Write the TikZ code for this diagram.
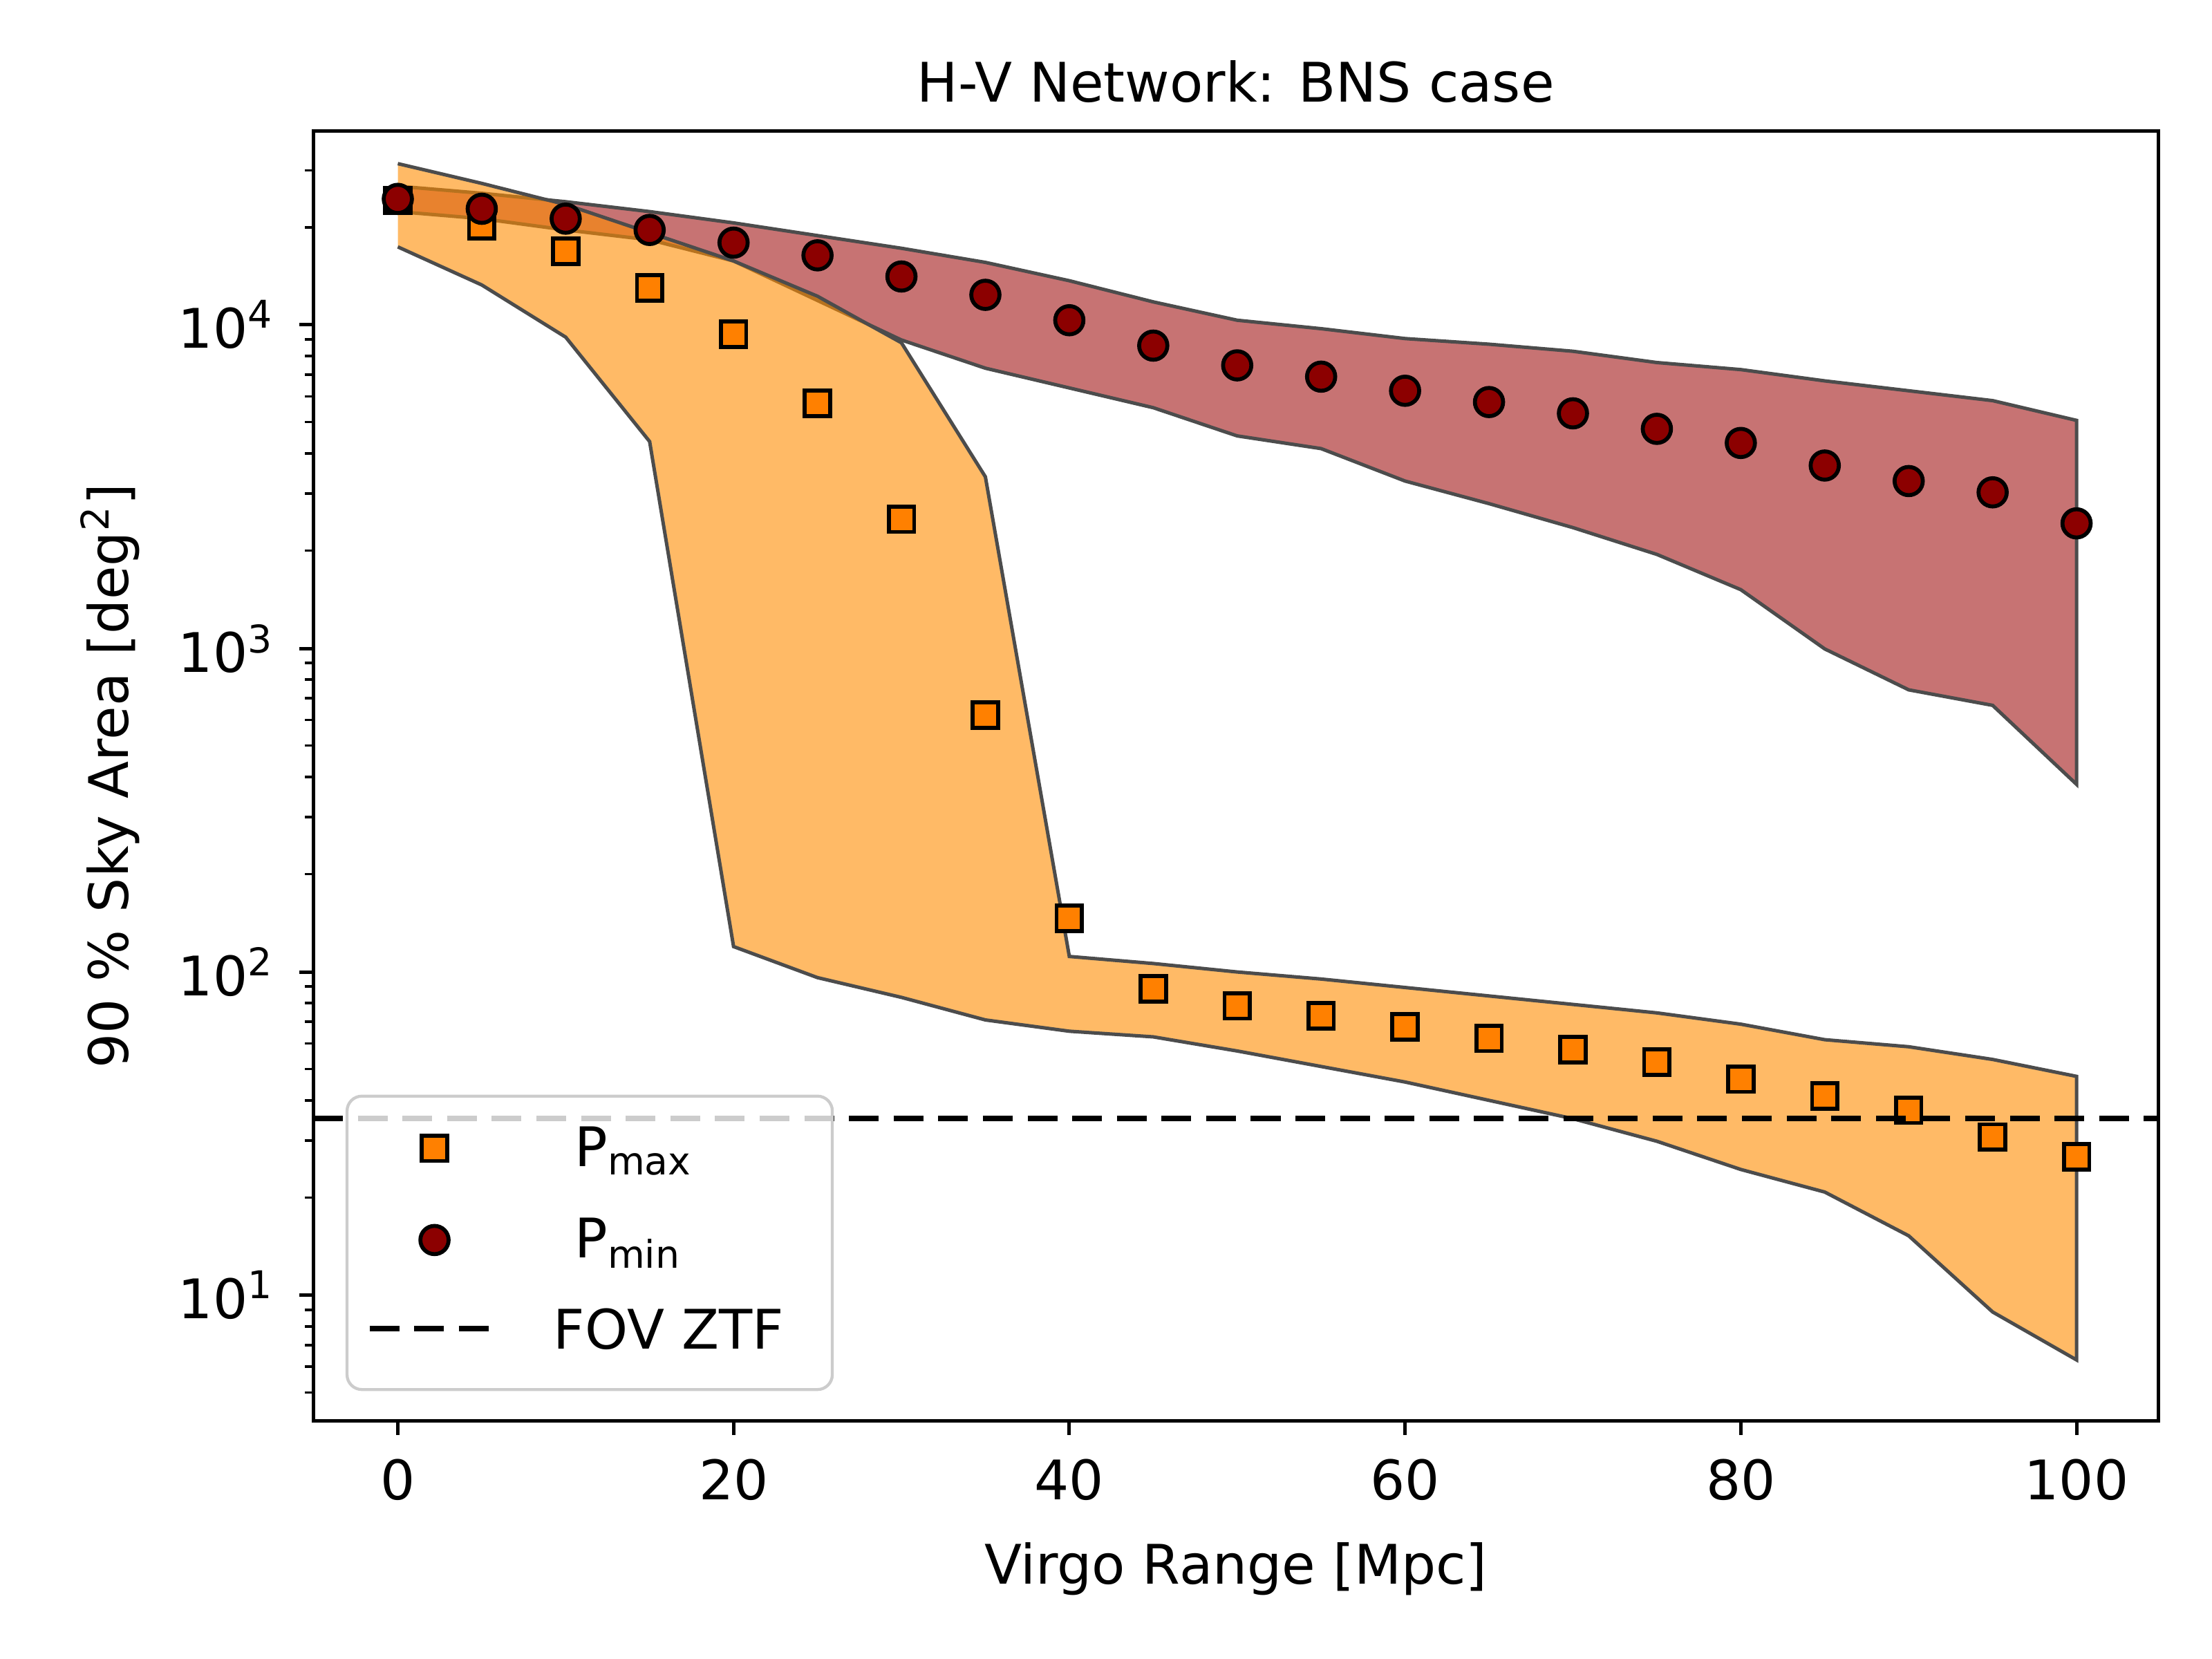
\documentclass[tikz,border=0pt]{standalone}
\usepackage{fontspec}
\setmainfont{DejaVu Sans}
\begin{document}
\begin{tikzpicture}[x=0.01cm,y=-0.01cm,
  bandline/.style={draw=black!70,line width=0.7pt},
  sq/.style={draw=black,fill=orange,line width=0.8pt},
  ci/.style={draw=black,fill=red!55!black,line width=0.8pt},
  lab/.style={font=\fontsize{11}{13}\selectfont},
  ]
\useasboundingbox (0,0) rectangle (1568,1176);
% red band
\fill[red!60!black,opacity=0.55] (282,132)--(341.5,137)--(401,143)--(460.5,150)--(520,158)--(579.5,167)--(639,176)--(698.5,186)--(758,199)--(817.5,214)--(877,227)--(936.5,233)--(996,240)--(1055.5,244)--(1115,249)--(1174.5,257)--(1234,262)--(1293.5,270)--(1353,277)--(1412.5,284)--(1472,298)
 --(1472,556)--(1412.5,500)--(1353,489)--(1293.5,460)--(1234,418)--(1174.5,393)--(1115,374)--(1055.5,357)--(996,341)--(936.5,318)--(877,309)--(817.5,289)--(758,275)--(698.5,261)--(639,241)--(579.5,213)--(520,185)--(460.5,170)--(401,163)--(341.5,155)--(282,150)--cycle;
\draw[bandline] (282,132)--(341.5,137)--(401,143)--(460.5,150)--(520,158)--(579.5,167)--(639,176)--(698.5,186)--(758,199)--(817.5,214)--(877,227)--(936.5,233)--(996,240)--(1055.5,244)--(1115,249)--(1174.5,257)--(1234,262)--(1293.5,270)--(1353,277)--(1412.5,284)--(1472,298)--(1472,556)--(1412.5,500)--(1353,489)--(1293.5,460)--(1234,418)--(1174.5,393)--(1115,374)--(1055.5,357)--(996,341)--(936.5,318)--(877,309)--(817.5,289)--(758,275)--(698.5,261)--(639,241)--(579.5,213)--(520,185)--(460.5,170)--(401,163)--(341.5,155)--(282,150);
% orange band
\fill[orange!90!yellow,opacity=0.6] (282,116)--(341.5,130)--(401,145)--(460.5,165)--(520,185)--(579.5,210)--(639,243)--(698.5,338)--(758,678)--(817.5,683)--(877,689)--(936.5,694)--(996,700)--(1055.5,706)--(1115,712)--(1174.5,718)--(1234,726)--(1293.5,737)--(1353,742)--(1412.5,751)--(1472,763)
 --(1472,964)--(1412.5,930)--(1353,876)--(1293.5,845)--(1234,829)--(1174.5,809)--(1115,793)--(1055.5,780)--(996,767)--(936.5,756)--(877,745)--(817.5,735)--(758,731)--(698.5,723)--(639,707)--(579.5,693)--(520,671)--(460.5,313)--(401,239)--(341.5,202)--(282,175)--cycle;
\draw[bandline] (282,116)--(341.5,130)--(401,145)--(460.5,165)--(520,185)--(579.5,210)--(639,243)--(698.5,338)--(758,678)--(817.5,683)--(877,689)--(936.5,694)--(996,700)--(1055.5,706)--(1115,712)--(1174.5,718)--(1234,726)--(1293.5,737)--(1353,742)--(1412.5,751)--(1472,763)--(1472,964)--(1412.5,930)--(1353,876)--(1293.5,845)--(1234,829)--(1174.5,809)--(1115,793)--(1055.5,780)--(996,767)--(936.5,756)--(877,745)--(817.5,735)--(758,731)--(698.5,723)--(639,707)--(579.5,693)--(520,671)--(460.5,313)--(401,239)--(341.5,202)--(282,175);
% markers
\foreach \i/\y in {0/142,1/160,2/178,3/204,4/237,5/286,6/368,7/507,8/651,9/701,10/713,11/720,12/728,13/736,14/744,15/753,16/765,17/777,18/787,19/806,20/820}
  \node[sq,minimum size=0.18cm,inner sep=0pt] (s\i) at ({282+59.5*\i},\y) {};
\foreach \i/\y in {0/141,1/148,2/155,3/163,4/172,5/181,6/196,7/209,8/227,9/245,10/259,11/267,12/277,13/285,14/293,15/304,16/314,17/330,18/341,19/349,20/371}
  \node[ci,circle,minimum size=0.2cm,inner sep=0pt] (c\i) at ({282+59.5*\i},\y) {};
% FOV line
\coordinate (fa) at (222,793); \coordinate (fb) at (1530,793);
\draw[dashed,line width=1.1pt,dash pattern=on 6pt off 3pt] (fa)--(fb);
% legend
\draw[black!20,fill=white,fill opacity=0.8,rounded corners=3pt,line width=0.6pt] (246,777) rectangle (590,985);
\node[sq,minimum size=0.18cm,inner sep=0pt] (ls) at (308,814) {};
\node[lab,anchor=west] (lt1) at (395,816) {P\textsubscript{max}};
\node[ci,circle,minimum size=0.2cm,inner sep=0pt] (lc) at (308,879) {};
\node[lab,anchor=west] (lt2) at (395,881) {P\textsubscript{min}};
\coordinate (la) at (262,942); \coordinate (lb) at (350,942);
\draw[dashed,line width=1.1pt,dash pattern=on 6pt off 3pt] (la)--(lb);
\node[lab,anchor=west] (lt3) at (380,942) {FOV ZTF};
% axes
\draw[line width=0.7pt] (222,93) rectangle (1530,1007);
\foreach \v in {0,20,40,60,80,100}{
  \draw[line width=0.7pt] ({282+11.9*\v},1007)--({282+11.9*\v},1017);
  \node[lab,anchor=north] (xt\v) at ({282+11.9*\v},1022) {\v};}
\foreach \e/\y in {1/918,2/689,3/460,4/230}{
  \draw[line width=0.7pt] (222,\y)--(212,\y);
  \node[lab,anchor=east] (yt\e) at (207,\y) {10\textsuperscript{\e}};}
\foreach \d in {0,1,2,3,4}{
  \foreach \k in {2,...,9}{
    \pgfmathsetmacro{\yy}{918-229.3*(\d+log10(\k))+229.3}
    \ifdim\yy pt<1007pt \ifdim\yy pt>93pt
      \draw[line width=0.5pt] (222,\yy)--(216,\yy);
    \fi\fi}}
\node[lab] (xl) at (876,1112) {Virgo Range [Mpc]};
\node[lab,rotate=90] (yl) at (78,550) {90 \% Sky Area [deg\textsuperscript{2}]};
\node[lab] (ti) at (876,58) {H-V Network: BNS case};
\end{tikzpicture}
\end{document}
